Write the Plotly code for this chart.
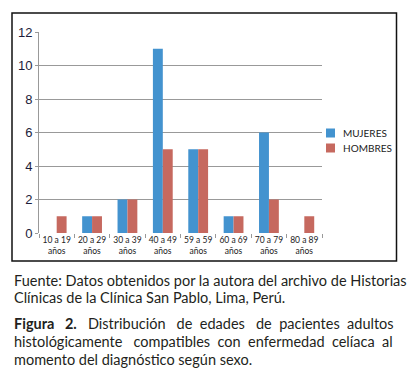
import plotly.graph_objects as go

categories = ["10 a 19<br>años", "20 a 29<br>años", "30 a 39<br>años", "40 a 49<br>años",
              "59 a 59<br>años", "60 a 69<br>años", "70 a 79<br>años", "80 a 89<br>años"]
mujeres = [0, 1, 2, 11, 5, 1, 6, 0]
hombres = [1, 1, 2, 5, 5, 1, 2, 1]
y_ticks = [0, 2, 4, 6, 8, 10, 12]
series_names = ["MUJERES", "HOMBRES"]

W, H = 411, 376
BLUE = "#4393CF"
RED = "#C6695F"
colors = [BLUE, RED]
CAP_FONT = "Lato"

fig = go.Figure()
for name, vals, col in zip(series_names, [mujeres, hombres], colors):
    fig.add_trace(go.Bar(name=name, x=categories, y=vals, marker_color=col,
                         marker_line_width=0, showlegend=False))

def px(x):
    return x / W

def py(y):
    return 1 - y / H

fig.update_layout(
    width=W, height=H, margin=dict(l=0, r=0, t=0, b=0, autoexpand=False),
    paper_bgcolor="white", plot_bgcolor="white",
    barmode="group", bargap=0.44, bargroupgap=0,
    showlegend=False,
    xaxis=dict(domain=[px(39), px(322)], showgrid=False, showline=False,
               ticks="outside", tickson="boundaries", ticklen=4, tickcolor="#999",
               tickangle=0, automargin=False,
               tickfont=dict(family=CAP_FONT, size=8.5, color="#222"), fixedrange=True),
    yaxis=dict(domain=[py(233), py(32)], range=[0, 12], tickvals=y_ticks,
               showgrid=True, gridcolor="#999", gridwidth=1, automargin=False,
               showline=True, linecolor="#999", linewidth=1,
               ticks="outside", ticklen=3, tickcolor="#999",
               tickfont=dict(family="Liberation Sans, Arial", size=13, color="#1c1c3a"),
               zeroline=False),
    font=dict(family=CAP_FONT),
)

fig.add_shape(type="rect", xref="paper", yref="paper",
              x0=px(12), x1=px(396.5), y0=py(261), y1=py(13),
              line=dict(color="#111", width=1.5))

for i, (name, col) in enumerate(zip(series_names, colors)):
    yc = 133 + 15 * i
    fig.add_shape(type="rect", xref="paper", yref="paper",
                  x0=px(326), x1=px(335), y0=py(yc + 4.5), y1=py(yc - 4.5),
                  fillcolor=col, line=dict(width=0))
    fig.add_annotation(xref="paper", yref="paper", x=px(341), y=py(yc),
                       xanchor="left", yanchor="middle", showarrow=False, text=name,
                       font=dict(family=CAP_FONT, size=10, color="#222"))

cap_color = "#231f20"
cap_size = 14.5
NB = "\u00a0"

def justify(words, extra):
    # extra[i] = number of additional non-breaking spaces after word i
    out = words[0]
    for w, e in zip(words[1:], extra):
        out += " " + NB * e + w
    return out

line3 = justify(["<b>Figura", "2.</b>", "Distribución", "de", "edades", "de", "pacientes", "adultos"],
                [2, 2, 2, 1, 2, 1, 1])
line4 = justify(["histológicamente", "compatibles", "con", "enfermedad", "celíaca", "al"],
                [2, 1, 1, 1, 1])

lines = [
    ("Fuente: Datos obtenidos por la autora del archivo de Historias", 280),
    ("Clínicas de la Clínica San Pablo, Lima, Perú.", 297),
    (line3, 323),
    (line4, 341),
    ("momento del diagnóstico según sexo.", 359),
]
for txt, yc in lines:
    fig.add_annotation(xref="paper", yref="paper", x=px(12), y=py(yc),
                       xanchor="left", yanchor="middle", showarrow=False,
                       text=txt, font=dict(family=CAP_FONT, size=cap_size, color=cap_color))

fig.write_html("out.html", config={"displayModeBar": False},
               post_script="document.body.style.margin='0';")
